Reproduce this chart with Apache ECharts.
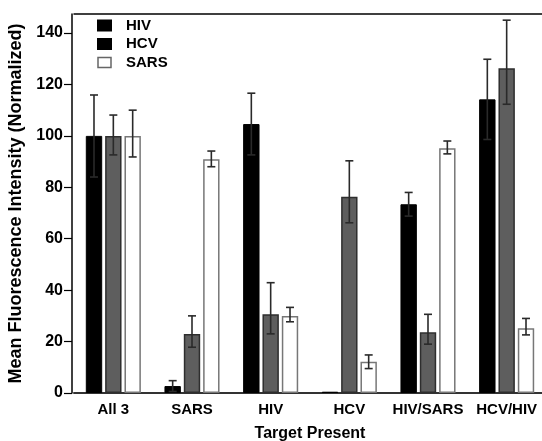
<!DOCTYPE html>
<html>
<head>
<meta charset="utf-8">
<script src="https://cdn.jsdelivr.net/npm/echarts@6/dist/echarts.min.js"></script>
<style>html,body{margin:0;padding:0;background:#fff}#c{width:542px;height:441px}</style>
</head>
<body>
<div id="c"></div>
<script>
const categories = ['All 3', 'SARS', 'HIV', 'HCV', 'HIV/SARS', 'HCV/HIV'];
const seriesNames = ['HIV', 'HCV', 'SARS'];
const hivValues = [100, 2.7, 104.6, 0.5, 73.4, 114.2];
const hcvValues = [100, 22.9, 30.6, 76.3, 23.6, 126.3];
const sarsValues = [100, 90.9, 29.9, 12.2, 95.2, 25.2];
const hivErrLow = [84, 0.6, 92.6, null, 68.8, 98.6];
const hivErrHigh = [115.9, 4.8, 116.6, null, 78, 129.8];
const hcvErrLow = [92.6, 17.8, 23, 66.2, 19, 112.3];
const hcvErrHigh = [108.1, 30, 42.9, 90.3, 30.6, 145];
const sarsErrLow = [91.8, 88, 27.7, 9.5, 93, 22.6];
const sarsErrHigh = [110, 94.1, 33.3, 14.8, 98, 29];
const yTicks = [0, 20, 40, 60, 80, 100, 120, 140];

const FONT = 'Liberation Sans, Arial, sans-serif';
const CAT_GAP = 0.30, BAR_GAP = 0.18, NBARS = 3;

function errSeries(idx, lows, highs) {
  const data = [];
  categories.forEach((c, i) => { if (lows[i] != null) data.push([i, lows[i], highs[i]]); });
  return {
    type: 'custom',
    z: 10,
    silent: true,
    encode: { x: 0, y: [1, 2] },
    data: data,
    renderItem: function (params, api) {
      const i = api.value(0);
      const band = api.size([1, 0])[0];
      const bw = band * (1 - CAT_GAP) / (NBARS + (NBARS - 1) * BAR_GAP);
      const total = bw * NBARS + bw * BAR_GAP * (NBARS - 1);
      const cx = api.coord([i, 0])[0] - total / 2 + idx * bw * (1 + BAR_GAP) + bw / 2;
      const yl = api.coord([i, api.value(1)])[1];
      const yh = api.coord([i, api.value(2)])[1];
      const cap = 4;
      const st = { stroke: '#2a2a2a', lineWidth: 1.6 };
      return {
        type: 'group',
        children: [
          { type: 'line', shape: { x1: cx, y1: yl, x2: cx, y2: yh }, style: st },
          { type: 'line', shape: { x1: cx - cap, y1: yl, x2: cx + cap, y2: yl }, style: st },
          { type: 'line', shape: { x1: cx - cap, y1: yh, x2: cx + cap, y2: yh }, style: st }
        ]
      };
    }
  };
}

const barCommon = { type: 'bar', barCategoryGap: (CAT_GAP * 100) + '%', barGap: (BAR_GAP * 100) + '%' };

const chart = echarts.init(document.getElementById('c'), null, { renderer: 'canvas' });
chart.setOption({
  backgroundColor: '#fff',
  animation: false,
  grid: { left: 74, right: -4, top: 14, bottom: 48, containLabel: false, outerBoundsMode: 'none' },
  legend: {
    orient: 'vertical',
    left: 97, top: 18, padding: 0,
    icon: 'rect',
    itemWidth: 13, itemHeight: 10, itemGap: 3.5,
    textStyle: { fontFamily: FONT, fontWeight: 'bold', fontSize: 15, color: '#000', padding: [0, 0, 0, 10] },
    data: [
      { name: 'HIV', itemStyle: { color: '#000', borderColor: '#000' } },
      { name: 'HCV', itemStyle: { color: '#000', borderColor: '#000' } },
      { name: 'SARS', itemStyle: { color: '#fff', borderColor: '#666', borderWidth: 1.5 } }
    ]
  },
  xAxis: [{
    type: 'category',
    data: categories,
    name: 'Target Present',
    nameLocation: 'middle',
    nameGap: 33,
    nameTextStyle: { fontFamily: FONT, fontWeight: 'bold', fontSize: 16, color: '#000' },
    axisLine: { lineStyle: { color: '#333', width: 2 } },
    axisTick: { show: false },
    axisLabel: { interval: 0, fontFamily: FONT, fontWeight: 'bold', fontSize: 15, color: '#000', margin: 9 },
    splitLine: { show: false }
  }, {
    type: 'category',
    position: 'top',
    data: categories,
    axisLine: { show: true, lineStyle: { color: '#000', width: 1.5 } },
    axisTick: { show: false },
    axisLabel: { show: false },
    splitLine: { show: false }
  }],
  yAxis: {
    type: 'value',
    min: 0, max: 147.4, interval: 20,
    offset: 2,
    name: 'Mean Fluorescence Intensity (Normalized)',
    nameLocation: 'middle',
    nameGap: 44,
    nameTextStyle: { fontFamily: FONT, fontWeight: 'bold', fontSize: 18, color: '#000' },
    axisLine: { show: true, lineStyle: { color: '#000', width: 1.5 } },
    axisTick: { show: true, length: 8, customValues: yTicks, lineStyle: { color: '#000', width: 1.2 } },
    axisLabel: { fontFamily: FONT, fontWeight: 'bold', fontSize: 16, color: '#000', margin: 9, customValues: yTicks },
    splitLine: { show: false }
  },
  series: [
    Object.assign({ name: 'HIV', data: hivValues,
      itemStyle: { color: '#000', borderColor: '#000', borderWidth: 1 } }, barCommon),
    Object.assign({ name: 'HCV', data: hcvValues,
      itemStyle: { color: '#5e5e5e', borderColor: '#2e2e2e', borderWidth: 1.5 } }, barCommon),
    Object.assign({ name: 'SARS', data: sarsValues,
      itemStyle: { color: '#fff', borderColor: '#777', borderWidth: 1.5 } }, barCommon),
    errSeries(0, hivErrLow, hivErrHigh),
    errSeries(1, hcvErrLow, hcvErrHigh),
    errSeries(2, sarsErrLow, sarsErrHigh)
  ]
});
</script>
</body>
</html>
